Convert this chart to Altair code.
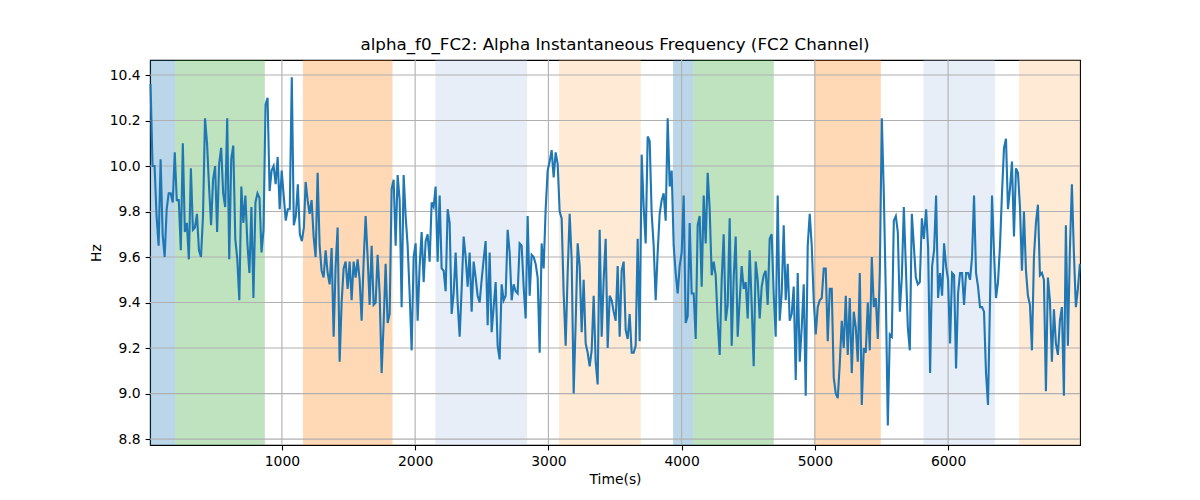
import altair as alt
import pandas as pd
import numpy as np

# --- signal values ---
seg1 = [10.36, 10.0, 10.0, 9.78, 9.65, 10.03, 9.70, 9.60, 9.81, 9.88, 9.88, 9.84, 10.06, 9.85, 9.85, 9.63,
        10.10, 9.71, 9.75, 9.59, 9.99, 9.72, 9.73, 9.79, 9.63, 9.60, 9.78, 10.21, 10.10, 9.91, 9.74, 9.94,
        10.0, 9.71, 10.01, 10.08, 9.88, 9.82, 10.21, 9.59, 10.03, 10.09, 9.68, 9.59, 9.41, 9.91, 9.75, 9.87,
        9.66, 9.53, 9.82, 9.42, 9.84, 9.88, 9.86, 9.62, 9.72, 10.27, 10.30, 9.89, 9.98, 10.0, 9.92, 10.04,
        9.81, 9.98, 9.87, 9.76, 9.81, 9.81, 10.39, 9.74, 9.78, 9.92, 9.70, 9.67, 9.73]
seg2 = [9.93, 9.85, 9.79, 9.85, 9.69, 9.60, 9.97, 9.65, 9.54, 9.51, 9.63, 9.53, 9.48, 9.64, 9.25, 9.56,
        9.73, 9.14, 9.40, 9.55, 9.58, 9.46, 9.58, 9.41, 9.58, 9.51, 9.59, 9.50, 9.32, 9.58, 9.78, 9.60,
        9.39, 9.65, 9.39, 9.40, 9.61, 9.44, 9.09, 9.31, 9.57, 9.31, 9.35, 9.90, 9.94, 9.65, 9.96, 9.85,
        9.38, 9.96, 9.78, 9.65, 9.44, 9.19, 9.60, 9.66, 9.32, 9.56, 9.71, 9.49, 9.67, 9.70, 9.58, 9.84,
        9.82, 9.91, 9.58, 9.87, 9.55, 9.54, 9.45, 9.81, 9.75, 9.35, 9.44, 9.62, 9.40, 9.25]
seg3 = [9.46, 9.69, 9.60, 9.47, 9.62, 9.36, 9.58, 9.51, 9.43, 9.40, 9.50, 9.59, 9.67, 9.30, 9.62, 9.27,
        9.38, 9.49, 9.21, 9.15, 9.48, 9.41, 9.43, 9.72, 9.62, 9.41, 9.48, 9.45, 9.44, 9.66, 9.65, 9.47,
        9.33, 9.78, 9.43, 9.61, 9.60, 9.57, 9.51, 9.18, 9.66, 9.55, 9.81, 9.98, 10.02, 10.07, 9.95, 10.06,
        10.01, 9.80, 9.77, 9.44, 9.21, 9.53, 9.79, 9.59, 9.00, 9.31, 9.66, 9.56, 9.27, 9.50, 9.22, 9.18,
        9.12, 9.19, 9.43, 9.14, 9.04, 9.72, 9.25, 9.50, 9.68, 9.20, 9.43, 9.41, 9.36]
seg4 = [9.32, 9.56, 9.25, 9.54, 9.58, 9.28, 9.24, 9.35, 9.18, 9.18, 9.21, 9.68, 9.23, 10.05, 9.82, 9.66,
        10.13, 10.11, 9.79, 9.65, 9.41, 9.62, 9.79, 9.85, 9.88, 9.76, 10.21, 9.91, 9.98, 9.65, 9.53, 9.44,
        9.56, 9.62, 9.87, 9.31, 9.34, 9.75, 9.44, 9.44, 9.24, 9.74, 9.78, 9.47, 9.87, 9.66, 9.97, 9.81,
        9.52, 9.58, 9.52, 9.32, 9.17, 9.50, 9.70, 9.32, 9.39, 9.77, 9.21, 9.51, 9.69, 9.25, 9.41, 9.56,
        9.46, 9.49, 9.33, 9.63, 9.39, 9.12, 9.58, 9.50, 9.33, 9.47, 9.52, 9.54, 9.39, 9.68]
seg5 = [9.70, 9.44, 9.25, 9.87, 9.32, 9.44, 9.74, 9.41, 9.57, 9.32, 9.35, 9.47, 9.06, 9.53, 9.14, 9.29,
        9.48, 8.99, 9.65, 9.79, 9.65, 9.41, 9.26, 9.38, 9.41, 9.42, 9.55, 9.55, 9.23, 9.46, 9.46, 9.07,
        9.00, 8.98, 9.13, 9.32, 9.20, 9.43, 9.17, 9.42, 9.09, 9.36, 9.29, 9.14, 9.53, 8.95, 9.20, 9.18,
        9.40, 9.19, 9.60, 9.38, 9.42, 9.24, 9.53, 10.21, 9.88, 9.44, 8.86, 9.26, 9.25, 9.76, 9.78, 9.71,
        9.36, 9.51, 9.82, 9.56, 9.29, 9.19, 9.79, 9.65, 9.51, 9.48, 9.49, 9.77, 9.68]
seg6 = [9.81, 9.64, 9.09, 9.56, 9.63, 9.87, 9.42, 9.53, 9.43, 9.66, 9.56, 9.50, 9.22, 9.53, 9.52, 9.11,
        9.44, 9.53, 9.53, 9.39, 9.53, 9.53, 9.50, 9.60, 9.87, 9.53, 9.47, 9.38, 9.38, 9.36, 9.09, 8.95,
        9.41, 9.87, 9.62, 9.42, 9.49, 9.65, 9.88, 10.08, 10.12, 9.81, 9.90, 10.02, 9.69, 9.99, 9.97, 9.82,
        9.54, 9.80, 9.54, 9.43, 9.39, 9.19, 9.60, 9.75, 9.83, 9.52, 9.53, 9.50, 9.01, 9.51, 9.41, 9.14,
        9.37, 9.22, 9.17, 9.32, 9.38, 8.99, 9.74, 9.21, 9.63, 9.92, 9.62, 9.38, 9.46, 9.57]
segments = [seg1, seg2, seg3, seg4, seg5, seg6]
seg_t_start = [14, 1178, 2349, 3505, 4676, 5835]
seg_t_end = [1165, 2334, 3490, 4661, 5818, 6989]

# --- shaded intervals ---
band_start = [10, 200, 1158, 2151, 3080, 3936, 4088, 4994, 5815, 6533]
band_end = [200, 872, 1830, 2840, 3693, 4088, 4692, 5495, 6351, 6990]
band_color = ["#1f77b4", "#2ca02c", "#ff7f0e", "#aec7e8", "#ffbb78",
              "#1f77b4", "#2ca02c", "#ff7f0e", "#aec7e8", "#ffbb78"]

x_ticks = [1000, 2000, 3000, 4000, 5000, 6000]
y_ticks = [8.8, 9.0, 9.2, 9.4, 9.6, 9.8, 10.0, 10.2, 10.4]
x_domain = [10, 6990]
y_domain = [8.774, 10.466]

times, values = [], []
for seg, t0, t1 in zip(segments, seg_t_start, seg_t_end):
    times.extend(np.linspace(t0, t1, len(seg)).tolist())
    values.extend(seg)
line_df = pd.DataFrame({"t": times, "hz": values})
band_df = pd.DataFrame({"t": band_start, "end": band_end, "color": band_color})
xgrid_df = pd.DataFrame({"t": x_ticks})
ygrid_df = pd.DataFrame({"hz": y_ticks})

xscale = alt.Scale(domain=x_domain, nice=False, zero=False)
yscale = alt.Scale(domain=y_domain, nice=False, zero=False)

axis_common = dict(
    grid=False, domainColor="black", tickColor="black", labelColor="black",
    tickSize=4.9, labelPadding=4.9, labelFontSize=13.9, titleFontSize=13.9,
    titleFontWeight="normal", titleColor="black", labelFont="DejaVu Sans",
    titleFont="DejaVu Sans", domainWidth=1.1, tickWidth=1.1,
)
xaxis = alt.Axis(title="Time(s)", values=x_ticks, format="d", titlePadding=4, **axis_common)
yaxis = alt.Axis(title="Hz", values=y_ticks, format=".1f", titlePadding=6, **axis_common)

bands = alt.Chart(band_df).mark_rect(opacity=0.3).encode(
    x=alt.X("t:Q", scale=xscale, axis=xaxis),
    x2="end:Q",
    color=alt.Color("color:N", scale=None),
)

xgrid = alt.Chart(xgrid_df).mark_rule(color="#b0b0b0", strokeWidth=1.1).encode(
    x=alt.X("t:Q", scale=xscale, axis=xaxis)
)
ygrid = alt.Chart(ygrid_df).mark_rule(color="#b0b0b0", strokeWidth=1.1).encode(
    y=alt.Y("hz:Q", scale=yscale, axis=yaxis)
)

line = alt.Chart(line_df).mark_line(color="#1f77b4", strokeWidth=2.1).encode(
    x=alt.X("t:Q", scale=xscale, axis=xaxis),
    y=alt.Y("hz:Q", scale=yscale, axis=yaxis),
)

chart = alt.layer(bands, xgrid, ygrid, line).properties(
    width=930,
    height=385,
    title=alt.TitleParams(
        "alpha_f0_FC2: Alpha Instantaneous Frequency (FC2 Channel)",
        fontSize=16.7, font="DejaVu Sans", fontWeight="normal", color="black",
        anchor="middle", offset=6,
    ),
    autosize=alt.AutoSizeParams(type="none"),
    padding={"left": 142, "top": 52, "right": 112, "bottom": 52},
).configure(
    font="DejaVu Sans",
    view=alt.ViewConfig(stroke="black", strokeWidth=1.1),
)

chart.save("out.html", embed_options={"renderer": "svg", "actions": False})
